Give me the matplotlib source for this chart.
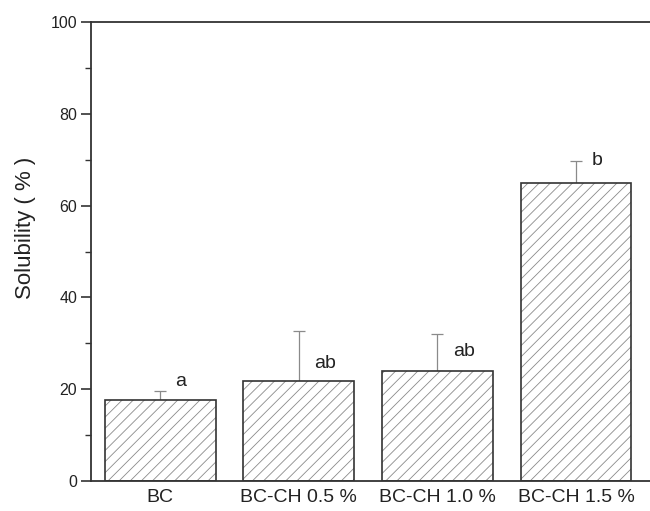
import matplotlib
matplotlib.use("Agg")
import matplotlib.pyplot as plt
import numpy as np
from matplotlib.ticker import MultipleLocator

plt.rcParams['font.family'] = ['Liberation Sans', 'DejaVu Sans']
plt.rcParams['hatch.linewidth'] = 0.6

groups = ['BC', 'BC-CH 0.5 %', 'BC-CH 1.0 %', 'BC-CH 1.5 %']
solubility = [17.7, 21.9, 23.9, 64.9]
err_up = [2.0, 10.8, 8.1, 4.8]
letters = ['a', 'ab', 'ab', 'b']
letter_y = [19.8, 23.8, 26.4, 68.1]

fig = plt.figure(figsize=(6.5, 5.11), dpi=100)
ax = fig.add_axes([0.14, 0.0587, 1.014 - 0.14, 0.898])

x = np.arange(len(groups))
# hatch layer, then outline on top
ax.bar(x, solubility, width=0.8, color='white', edgecolor='#8a8a8a', hatch='///', linewidth=0, zorder=2)
ax.bar(x, solubility, width=0.8, fill=False, edgecolor='#333333', linewidth=1.2, zorder=3)
ax.errorbar(x, solubility, yerr=[np.zeros(len(x)), err_up], fmt='none', ecolor='#8a8a8a',
            elinewidth=0.9, capsize=4, capthick=0.9, zorder=1)

for xi, lab, ly in zip(x, letters, letter_y):
    ax.text(xi + 0.11, ly, lab, fontsize=14, color='#222222', ha='left', va='bottom')

ax.set_xlim(-0.5, 3.6)
ax.set_ylim(0, 100)
ax.set_xticks(x)
ax.set_xticklabels(groups, fontsize=14, color='#222222')
ax.tick_params(axis='x', length=0, pad=6)
ax.yaxis.set_major_locator(MultipleLocator(20))
ax.yaxis.set_minor_locator(MultipleLocator(10))
ax.tick_params(axis='y', which='major', direction='out', length=7, width=1.2, labelsize=11.5,
               colors='#333333', labelcolor='#222222', pad=3)
ax.tick_params(axis='y', which='minor', direction='out', length=4, width=1.0, colors='#333333')
ax.set_ylabel('Solubility ( % )', fontsize=16, color='#222222')
ax.yaxis.set_label_coords(-0.097, 0.551)

ax.spines['right'].set_visible(False)
for s in ['left', 'bottom', 'top']:
    ax.spines[s].set_linewidth(1.3)
    ax.spines[s].set_color('#333333')

fig.savefig('out.png', dpi=100)
